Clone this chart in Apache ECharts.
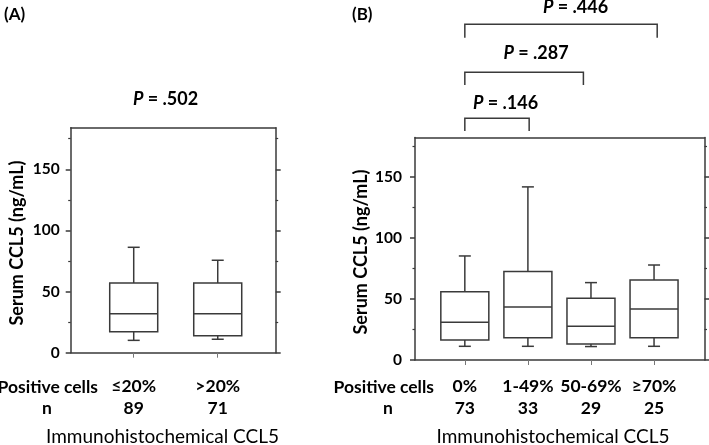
<!DOCTYPE html>
<html>
<head>
<meta charset="utf-8">
<script src="https://cdn.jsdelivr.net/npm/echarts@6/dist/echarts.min.js"></script>
<style>
html,body{margin:0;padding:0;background:#fff;}
#c{width:709px;height:445px;}
</style>
</head>
<body>
<div id="c"></div>
<script>
// ---------- data ----------
const catsA = ['≤20%', '>20%'];
const nA = [89, 71];
const lowA = [10.1, 11.0];
const q1A = [17.2, 13.9];
const medA = [31.9, 31.9];
const q3A = [57.0, 57.0];
const highA = [86.2, 75.6];
const pA = '.502';

const catsB = ['0%', '1-49%', '50-69%', '≥70%'];
const nB = [73, 33, 29, 25];
const lowB = [11.2, 11.2, 11.0, 11.2];
const q1B = [16.4, 18.2, 13.1, 18.2];
const medB = [30.9, 43.4, 27.6, 41.7];
const q3B = [55.9, 72.3, 50.5, 65.5];
const highB = [85.1, 141.6, 63.3, 77.7];
const pB = ['.146', '.287', '.446'];
const bracketEndsB = [[1, 2.02], [1, 2.88], [1, 4.05]];

const majorTicks = [0, 50, 100, 150];
const minorTicks = [25, 75, 125, 175];

// ---------- helpers ----------
const FONT = 'Lato';
const LC = '#3a3a3a';
const LW = 1.5;

function boxData(cats, lo, q1, med, q3, hi) {
  return cats.map((c, i) => [i + 1, lo[i], q1[i], med[i], q3[i], hi[i]]);
}

function renderBox(params, api) {
  const x = api.value(0);
  const pLo = api.coord([x, api.value(1)]);
  const pQ1 = api.coord([x, api.value(2)]);
  const pMed = api.coord([x, api.value(3)]);
  const pQ3 = api.coord([x, api.value(4)]);
  const pHi = api.coord([x, api.value(5)]);
  const cx = pLo[0];
  const bw = 48, cw = 12;
  const st = { stroke: LC, lineWidth: LW, fill: null };
  return {
    type: 'group',
    children: [
      { type: 'line', shape: { x1: cx, y1: pQ3[1], x2: cx, y2: pHi[1] }, style: st },
      { type: 'line', shape: { x1: cx - cw / 2, y1: pHi[1], x2: cx + cw / 2, y2: pHi[1] }, style: st },
      { type: 'line', shape: { x1: cx, y1: pQ1[1], x2: cx, y2: pLo[1] }, style: st },
      { type: 'line', shape: { x1: cx - cw / 2, y1: pLo[1], x2: cx + cw / 2, y2: pLo[1] }, style: st },
      { type: 'rect', shape: { x: cx - bw / 2, y: pQ3[1], width: bw, height: pQ1[1] - pQ3[1] }, style: { stroke: LC, lineWidth: LW, fill: '#fff' } },
      { type: 'line', shape: { x1: cx - bw / 2, y1: pMed[1], x2: cx + bw / 2, y2: pMed[1] }, style: st }
    ]
  };
}

function xAxes(gridIndex, cats, ns, min, max, margin) {
  const vals = cats.map((c, i) => i + 1);
  const lab = { fontFamily: FONT, fontSize: 17.5, fontWeight: 'bold', color: '#000', lineHeight: 21.5 };
  return [
    {
      type: 'value', gridIndex, position: 'bottom', min, max,
      axisLine: { show: true, onZero: false, lineStyle: { color: LC, width: LW } },
      axisTick: { show: true, customValues: vals, length: 5, lineStyle: { color: '#777', width: 1 } },
      axisLabel: {
        show: true, customValues: vals, margin,
        formatter: v => '{c|' + cats[Math.round(v) - 1] + '}\n{n|' + ns[Math.round(v) - 1] + '}',
        rich: { c: lab, n: lab }
      },
      splitLine: { show: false }
    },
    {
      type: 'value', gridIndex, position: 'top', min, max,
      axisLine: { show: true, onZero: false, lineStyle: { color: LC, width: LW } },
      axisTick: { show: false }, axisLabel: { show: false }, splitLine: { show: false }
    }
  ];
}

function yAxes(gridIndex, max, labelMargin) {
  const base = { type: 'value', gridIndex, min: 0, max, splitLine: { show: false } };
  return [
    Object.assign({}, base, {
      position: 'left',
      axisLine: { show: true, onZero: false, lineStyle: { color: LC, width: LW } },
      axisTick: { show: true, customValues: majorTicks, length: 5, lineStyle: { color: LC, width: LW } },
      axisLabel: { show: true, customValues: majorTicks, margin: labelMargin, fontFamily: FONT, fontSize: 15.5, fontWeight: 'bold', color: '#000' }
    }),
    Object.assign({}, base, {
      position: 'left',
      axisLine: { show: false, onZero: false },
      axisTick: { show: true, customValues: minorTicks, length: 2.5, lineStyle: { color: LC, width: 1.2 } },
      axisLabel: { show: false }
    }),
    Object.assign({}, base, {
      position: 'right',
      axisLine: { show: true, onZero: false, lineStyle: { color: LC, width: LW } },
      axisTick: { show: true, customValues: majorTicks, length: 5, lineStyle: { color: LC, width: LW } },
      axisLabel: { show: false }
    }),
    Object.assign({}, base, {
      position: 'right',
      axisLine: { show: false, onZero: false },
      axisTick: { show: true, customValues: minorTicks, length: 2.5, lineStyle: { color: LC, width: 1.2 } },
      axisLabel: { show: false }
    })
  ];
}

function txt(text, x, y, size, weight, align, extra) {
  return Object.assign({
    type: 'text', x, y,
    style: {
      text, fill: '#000', textAlign: align || 'center', textVerticalAlign: 'middle',
      font: (weight || 'bold') + ' ' + size + 'px ' + FONT
    }
  }, extra || {});
}

function pText(val, x, y) {
  return {
    type: 'text', x, y,
    style: {
      text: '{i|P}{b| = ' + val + '}', textAlign: 'center', textVerticalAlign: 'middle',
      fill: '#000', font: 'bold 18px ' + FONT,
      rich: {
        i: { fontFamily: FONT, fontSize: 18, fontWeight: 'bold', fontStyle: 'italic', fill: '#000' },
        b: { fontFamily: FONT, fontSize: 18, fontWeight: 'bold', fill: '#000' }
      }
    }
  };
}

// ---------- chart ----------
const chart = echarts.init(document.getElementById('c'), null, { renderer: 'canvas' });

const option = {
  animation: false,
  backgroundColor: '#fff',
  grid: [
    { left: 70.7, top: 127.7, width: 205, height: 225, containLabel: false },
    { left: 415, top: 137.5, width: 289.5, height: 222.5, containLabel: false }
  ],
  xAxis: [].concat(
    xAxes(0, catsA, nA, 0.25, 2.69, 23),
    xAxes(1, catsB, nB, 0.21, 4.8, 16)
  ),
  yAxis: [].concat(yAxes(0, 184, 11), yAxes(1, 182, 13)),
  series: [
    { type: 'custom', xAxisIndex: 0, yAxisIndex: 0, renderItem: renderBox, data: boxData(catsA, lowA, q1A, medA, q3A, highA), clip: false },
    { type: 'custom', xAxisIndex: 2, yAxisIndex: 4, renderItem: renderBox, data: boxData(catsB, lowB, q1B, medB, q3B, highB), clip: false }
  ]
};
chart.setOption(option);

// annotations
const graphics = [
  txt('(A)', 4, 15, 17, 'bold', 'left'),
  txt('(B)', 352, 15, 17, 'bold', 'left'),
  pText(pA, 165.5, 99.5),
  txt('Serum CCL5 (ng/mL)', 17, 243, 18, 'bold', 'center', { rotation: Math.PI / 2 }),
  txt('Serum CCL5 (ng/mL)', 361, 252, 18, 'bold', 'center', { rotation: Math.PI / 2 }),
  txt('Positive cells', 98, 387, 17.5, 'bold', 'right'),
  txt('n', 47, 408, 17.5, 'bold', 'center'),
  txt('Positive cells', 434, 387, 17.5, 'bold', 'right'),
  txt('n', 388, 408, 17.5, 'bold', 'center'),
  txt('Immunohistochemical CCL5', 162.5, 437, 19, 'normal', 'center'),
  txt('Immunohistochemical CCL5', 553, 437, 19, 'normal', 'center')
];

const bracketY = [[118.3, 131], [72.3, 85], [24.3, 37.7]];
const pPos = [[505.5, 103.5], [536, 53.5], [575.5, 7.5]];
bracketEndsB.forEach((pair, i) => {
  const xa = chart.convertToPixel({ xAxisIndex: 2 }, pair[0]);
  const xb = chart.convertToPixel({ xAxisIndex: 2 }, pair[1]);
  const [yb, yl] = bracketY[i];
  graphics.push({
    type: 'polyline',
    shape: { points: [[xa, yl], [xa, yb], [xb, yb], [xb, yl]] },
    style: { stroke: LC, lineWidth: LW, fill: null }
  });
  graphics.push(pText(pB[i], pPos[i][0], pPos[i][1]));
});

chart.setOption({ graphic: graphics });
</script>
</body>
</html>
